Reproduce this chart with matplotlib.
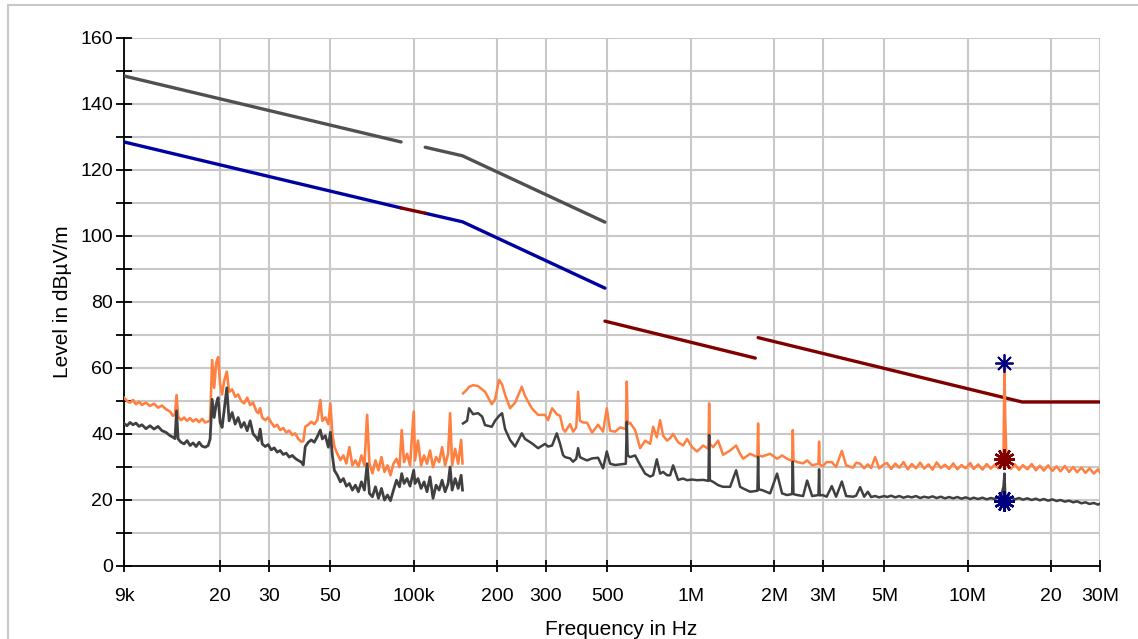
import matplotlib

matplotlib.use("Agg")
import matplotlib.pyplot as plt  # noqa: E402
from matplotlib.patches import Rectangle  # noqa: E402
from matplotlib.ticker import FixedLocator, NullLocator  # noqa: E402

plt.rcParams["font.family"] = ["Liberation Sans", "DejaVu Sans"]

# ---- limit lines (frequency in Hz, level in dBuV/m), one list per segment ----
limit_gray_1_f = [9e3, 90e3]
limit_gray_1_v = [148.5, 128.5]
limit_gray_2_f = [110e3, 150e3, 490e3]
limit_gray_2_v = [126.9, 124.3, 104.2]

limit_blue_1_f = [9e3, 90e3]
limit_blue_1_v = [128.5, 108.5]
limit_blue_2_f = [110e3, 150e3, 490e3]
limit_blue_2_v = [106.9, 104.3, 84.2]

limit_red_1_f = [90e3, 110e3]
limit_red_1_v = [108.5, 106.9]
limit_red_2_f = [490e3, 1.71e6]
limit_red_2_v = [74.2, 63.0]
limit_red_3_f = [1.75e6, 15.7e6, 30e6]
limit_red_3_v = [69.2, 49.7, 49.7]

# ---- measured traces, band 9 kHz - 150 kHz (kHz) ----
band_a_khz = [9.0, 9.23, 9.46, 9.70, 9.94, 10.20, 10.45, 10.80, 11.17, 11.55,
              11.94, 12.34, 12.76, 13.19, 13.52, 13.75, 13.93, 14.11, 14.46, 14.83,
              15.20, 15.59, 15.98, 16.39, 16.80, 17.23, 17.67, 18.11, 18.41, 18.72,
              19.04, 19.36, 19.68, 20.01, 20.34, 20.68, 21.15, 21.56, 22.11, 22.67,
              23.24, 23.83, 24.43, 25.05, 25.68, 26.33, 27.0, 27.45, 27.91, 28.38,
              29.10, 29.83, 30.59, 31.36, 32.16, 32.97, 33.80, 34.66, 35.54, 36.44,
              37.36, 38.30, 39.27, 39.93, 40.6, 41.63, 42.69, 43.77, 44.87, 46.01,
              46.78, 47.97, 49.18, 50.01, 50.85, 51.70, 53.01, 54.35, 55.73, 57.14,
              58.58, 60.07, 61.59, 63.15, 64.75, 66.38, 67.89, 69.2, 70.95, 72.75,
              74.59, 76.48, 78.42, 80.4, 82.43, 84.52, 86.66, 88.85, 90.5, 92.3,
              94.6, 97.0, 100.0, 101.1, 103.6, 106.3, 109.0, 111.7, 114.5, 117.4,
              120.4, 123.5, 126.6, 129.8, 133.1, 135.3, 137.6, 141.1, 144.7, 148.3,
              150.0]
peak_a = [51.0, 50.0, 49.5, 50.3, 49.0, 49.8, 48.8, 49.5, 48.5, 49.2,
          48.0, 48.6, 47.5, 46.8, 45.5, 46.0, 51.8, 45.2, 44.2, 45.0,
          44.0, 44.8, 43.8, 44.5, 43.6, 44.6, 43.5, 43.8, 44.0, 62.4,
          54.0, 61.5, 63.3, 55.0, 52.0, 56.0, 58.9, 52.8, 53.5, 51.3,
          52.0, 50.0, 49.3, 51.0, 48.8, 49.5, 47.0, 46.3, 47.8, 45.0,
          44.2, 45.0, 43.5, 42.2, 42.8, 41.2, 41.8, 40.5, 41.0, 39.7,
          40.2, 38.5, 37.7, 37.8, 42.2, 42.8, 43.7, 43.0, 44.2, 50.3,
          44.0, 45.0, 43.0, 49.3, 40.0, 36.2, 34.0, 32.1, 33.5, 31.1,
          36.0, 30.5, 32.0, 30.1, 33.5, 30.5, 45.8, 31.0, 28.1, 32.0,
          29.0, 33.0, 28.5, 30.5, 27.5, 31.0, 32.5, 30.0, 41.2, 31.5,
          34.0, 30.5, 46.8, 32.0, 38.0, 30.5, 33.5, 31.0, 35.0, 30.0,
          33.0, 31.5, 36.0, 30.5, 34.0, 46.3, 30.5, 35.5, 31.0, 38.2,
          31.1]
avg_a = [43.2, 42.5, 43.5, 42.8, 43.3, 42.3, 42.8, 41.6, 42.5, 41.5,
         42.3, 41.0, 40.5, 39.5, 39.0, 38.6, 47.0, 38.5, 37.5, 37.0,
         38.0, 36.5, 37.3, 36.2, 37.5, 36.3, 36.0, 36.5, 38.5, 50.5,
         45.0, 49.0, 51.0, 43.5, 42.0, 47.0, 54.0, 44.0, 46.5, 43.0,
         45.0, 42.0, 43.5, 41.0, 44.0, 40.0, 39.0, 38.0, 41.5, 37.0,
         36.2, 36.8, 35.2, 35.8, 34.5, 35.0, 33.8, 34.2, 33.0, 33.5,
         32.6, 32.0, 31.5, 30.6, 36.2, 37.5, 38.2, 37.5, 39.2, 41.2,
         38.5, 39.5, 36.0, 40.5, 33.5, 29.0, 27.5, 25.5, 26.5, 24.2,
         25.0, 23.0, 24.5, 22.5, 25.5, 23.0, 31.0, 22.0, 21.0, 24.0,
         20.5, 23.5, 20.0, 21.5, 19.8, 23.0, 26.0, 24.0, 28.0, 25.0,
         26.5, 24.2, 29.0, 25.0, 26.5, 23.5, 25.5, 22.5, 27.0, 20.5,
         24.5, 23.0, 26.0, 22.5, 25.0, 30.0, 23.0, 26.5, 23.5, 27.5,
         23.0]

# ---- measured traces, band 150 kHz - 30 MHz (kHz) ----
band_b_khz = [150.7, 155.8, 158.4, 163.8, 170.7, 176.5, 180.9, 191.3, 196.6, 203.3,
              208.4, 213.7, 222.7, 232.2, 245.5, 252.3, 266.7, 281.1, 297.9, 305.4,
              315.8, 328.3, 337.5, 346.0, 351.8, 366.7, 376.0, 386.0, 392.0, 398.0,
              408.6, 422.4, 440.3, 462.8, 482.5, 497.6, 511.5, 533.2, 555.8, 583.0,
              587.6, 592.0, 604.0, 629.6, 656.4, 684.3, 713.3, 731.3, 754.1, 775.1,
              794.7, 821.5, 842.3, 863.6, 900.0, 938.2, 970.0, 1011, 1054, 1108,
              1158, 1165, 1172, 1204, 1255, 1308, 1387, 1458, 1507, 1545,
              1638, 1740, 1750, 1760, 1809, 1934, 2049, 2136, 2227, 2322,
              2335, 2348, 2420, 2544, 2630, 2742, 2890, 2905, 2920, 2992,
              3093, 3229, 3346, 3510, 3637, 3855, 3953, 4086, 4225, 4357,
              4478, 4630, 4784, 5000, 5110, 5290, 5470, 5660, 5860, 6070,
              6280, 6500, 6730, 6960, 7210, 7460, 7720, 7990, 8270, 8560,
              8860, 9170, 9490, 9820, 10200, 10500, 10900, 11300, 11700, 12100,
              12500, 12900, 13200, 13450, 13560, 13650, 13800, 14300, 14800, 15300,
              15800, 16400, 17000, 17600, 18200, 18800, 19500, 20200, 20900, 21600,
              22400, 23200, 24000, 24800, 25700, 26600, 27500, 28500, 29500, 30000]
peak_b = [52.3, 53.5, 54.3, 54.8, 54.5, 53.5, 52.8, 49.0, 50.5, 56.4,
          55.0, 51.9, 47.8, 49.5, 54.3, 51.5, 47.8, 45.8, 45.8, 44.2,
          47.8, 46.0, 45.5, 41.5, 40.7, 43.0, 40.7, 42.0, 52.8, 44.0,
          43.5, 43.4, 40.4, 42.8, 40.7, 47.8, 41.0, 40.7, 42.0, 41.5,
          55.9, 43.0, 43.4, 41.2, 35.7, 38.0, 37.0, 42.2, 39.0, 44.2,
          39.5, 38.0, 38.7, 40.0, 37.5, 36.5, 38.5, 36.0, 34.7, 36.5,
          35.5, 49.3, 37.0, 36.0, 38.0, 33.7, 35.0, 36.5, 34.0, 32.5,
          34.0, 33.0, 43.2, 33.5, 33.2, 34.0, 32.5, 33.5, 32.5, 31.8,
          41.2, 32.0, 31.5, 31.1, 32.0, 30.5, 31.0, 37.7, 30.8, 30.2,
          31.5, 31.5, 30.0, 34.9, 30.5, 29.8, 31.3, 31.0, 29.6, 30.8,
          29.7, 33.0, 29.6, 30.9, 31.2, 29.4, 31.0, 29.8, 31.5, 29.3,
          30.9, 29.6, 31.3, 29.5, 30.8, 29.2, 31.4, 29.7, 30.7, 29.4,
          31.1, 29.3, 30.6, 29.6, 31.2, 29.4, 30.8, 29.2, 30.9, 29.5,
          30.7, 29.6, 31.5, 34.0, 61.5, 45.0, 31.0, 29.4, 30.8, 29.1,
          30.6, 29.3, 30.9, 29.0, 30.4, 28.9, 30.5, 28.8, 30.2, 28.7,
          30.3, 28.5, 30.0, 28.4, 29.8, 28.2, 29.6, 28.0, 29.3, 28.3]
avg_b = [43.2, 44.0, 47.8, 46.0, 46.3, 45.3, 42.7, 42.2, 44.0, 45.5,
         46.3, 41.5, 38.2, 36.2, 40.2, 38.5, 37.2, 35.7, 37.0, 36.2,
         36.5, 40.2, 37.0, 33.6, 33.0, 32.6, 31.6, 32.5, 35.7, 33.0,
         32.5, 32.0, 32.6, 32.8, 29.6, 34.7, 31.0, 30.6, 30.8, 31.0,
         43.7, 33.5, 33.0, 33.5, 30.6, 28.0, 27.1, 27.5, 32.3, 28.0,
         28.5, 27.5, 27.5, 30.5, 26.1, 26.5, 26.0, 26.2, 26.0, 26.1,
         25.8, 39.7, 26.0, 25.5, 24.5, 24.0, 24.0, 29.0, 24.0, 23.5,
         22.5, 22.8, 33.1, 23.2, 23.0, 22.0, 28.0, 22.0, 21.5, 21.8,
         31.6, 21.8, 21.5, 21.2, 25.9, 21.2, 21.5, 29.3, 21.4, 21.5,
         21.0, 24.2, 21.0, 25.6, 21.2, 21.0, 21.3, 23.9, 21.0, 22.5,
         20.9, 21.2, 20.8, 21.2, 20.9, 21.3, 20.8, 21.2, 20.7, 21.1,
         20.8, 21.2, 20.6, 21.0, 20.7, 21.1, 20.6, 21.0, 20.5, 20.9,
         20.5, 20.9, 20.4, 20.8, 20.3, 20.7, 20.3, 20.7, 20.2, 20.6,
         20.3, 20.9, 21.5, 24.0, 28.0, 21.5, 20.4, 20.8, 20.2, 20.6,
         20.1, 20.5, 20.0, 20.4, 19.9, 20.3, 19.8, 20.2, 19.7, 20.0,
         19.5, 19.8, 19.3, 19.6, 19.0, 19.3, 18.8, 19.1, 18.6, 18.9]

# ---- final measurement markers at 13.56 MHz ----
marker_f = 13.56e6
marker_top_level = 61.5
marker_peak_level = 32.5
marker_avg_level = 19.8

x_ticks = [9e3, 20e3, 30e3, 50e3, 100e3, 200e3, 300e3, 500e3,
           1e6, 2e6, 3e6, 5e6, 10e6, 20e6, 30e6]
x_labels = ["9k", "20", "30", "50", "100k", "200", "300", "500",
            "1M", "2M", "3M", "5M", "10M", "20", "30M"]

C_ORANGE = "#FF8040"
C_AVG = "#404040"
C_LIM_GRAY = "#505050"
C_BLUE = "#0000A0"
C_RED = "#800000"
C_NAVY = "#000080"

fig = plt.figure(figsize=(11.38, 6.39), dpi=100)
ax = fig.add_axes([124 / 1138, 1 - 566 / 639, 976 / 1138, 528 / 639])
ax.set_xscale("log")
ax.set_xlim(9e3, 30e6)
ax.set_ylim(0, 160)

# limit lines
lim_kw = dict(lw=2.4, solid_capstyle="round", zorder=3)
ax.plot(limit_gray_1_f, limit_gray_1_v, color=C_LIM_GRAY, **lim_kw)
ax.plot(limit_gray_2_f, limit_gray_2_v, color=C_LIM_GRAY, **lim_kw)
ax.plot(limit_blue_1_f, limit_blue_1_v, color=C_BLUE, **lim_kw)
ax.plot(limit_blue_2_f, limit_blue_2_v, color=C_BLUE, **lim_kw)
ax.plot(limit_red_1_f, limit_red_1_v, color=C_RED, **lim_kw)
ax.plot(limit_red_2_f, limit_red_2_v, color=C_RED, **lim_kw)
ax.plot(limit_red_3_f, limit_red_3_v, color=C_RED, **lim_kw)

# traces
fa = [f * 1e3 for f in band_a_khz]
fb = [f * 1e3 for f in band_b_khz]
ax.plot(fa, peak_a, color=C_ORANGE, lw=1.9, zorder=4)
ax.plot(fa, avg_a, color=C_AVG, lw=2.0, zorder=4)
ax.plot(fb, peak_b, color=C_ORANGE, lw=1.8, zorder=4)
ax.plot(fb, avg_b, color=C_AVG, lw=1.8, zorder=4)

# markers
ax.plot(marker_f, marker_top_level, marker=(8, 2, 0), ms=13, mew=1.3,
        color=C_NAVY, zorder=6)
for lvl, col in [(marker_peak_level, C_RED), (marker_avg_level, C_NAVY)]:
    ax.plot(marker_f, lvl, marker=(12, 1, 0), ms=12, color=col, mew=0, zorder=6)
    ax.plot(marker_f, lvl, marker=(12, 2, 0), ms=15, mew=1.8, color=col, zorder=6)

# axes styling
for side in ["top", "right"]:
    ax.spines[side].set_visible(False)
for side in ["left", "bottom"]:
    ax.spines[side].set_linewidth(1.3)

ax.xaxis.set_major_locator(FixedLocator(x_ticks))
ax.xaxis.set_minor_locator(NullLocator())
ax.set_xticklabels(x_labels)
ax.set_yticks(range(0, 161, 20))
ax.set_yticks(range(10, 160, 20), minor=True)

ax.tick_params(axis="both", which="both", direction="inout", width=1.3,
               labelsize=14, colors="black")
ax.tick_params(axis="y", which="both", length=11, pad=2.5)
ax.tick_params(axis="x", which="both", length=9, pad=11)

ax.grid(True, which="both", color="#c8c8c8", lw=1.5, zorder=0)
ax.set_axisbelow(True)

ax.set_xlabel("Frequency in Hz", fontsize=15)
ax.xaxis.set_label_coords(0.5097, -0.102)
ax.set_ylabel("Level in dBµV/m", fontsize=15)
ax.yaxis.set_label_coords(-0.053, 0.5)

fig.patches.append(Rectangle((8 / 1138, -0.05), 1.1, 1 - 5 / 639 + 0.05,
                             transform=fig.transFigure, fill=False,
                             ec="#c8c8c8", lw=1.5))

fig.savefig("out.png", dpi=100)
